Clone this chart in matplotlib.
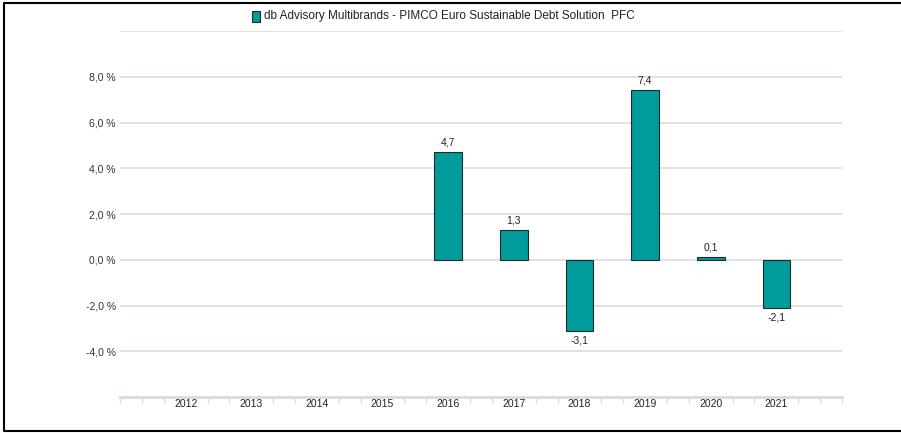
import matplotlib
matplotlib.use("Agg")
import matplotlib.pyplot as plt
from matplotlib.patches import Rectangle
from matplotlib.lines import Line2D
import numpy as np

# data
years = ["2012", "2013", "2014", "2015", "2016", "2017", "2018", "2019", "2020", "2021"]
values = [None, None, None, None, 4.7, 1.3, -3.1, 7.4, 0.1, -2.1]
series_name = "db Advisory Multibrands - PIMCO Euro Sustainable Debt Solution  PFC"
y_ticks = [-4, -2, 0, 2, 4, 6, 8]

bar_color = "#009b9b"
grid_color = "#dedbd3"

plt.rcParams["font.family"] = ["Liberation Sans", "DejaVu Sans"]

fig = plt.figure(figsize=(9.01, 4.33), dpi=100)
ax = fig.add_axes([120 / 901, 36 / 433, 722 / 901, 366 / 433])

x = np.arange(1, len(years) + 1)
for xi, v in zip(x, values):
    if v is None:
        continue
    ax.bar(xi, v, width=0.42, color=bar_color, edgecolor="#1e2a2a", linewidth=0.8, zorder=3)
    if v >= 0:
        ax.text(xi, v + 0.2, f"{v:.1f}".replace(".", ","), ha="center", va="bottom",
                fontsize=7.5, color="#222222")
    else:
        ax.text(xi, v - 0.2, f"{v:.1f}".replace(".", ","), ha="center", va="top",
                fontsize=7.5, color="#222222")

ax.set_xlim(0, 11)
ax.set_ylim(-6, 10)

# horizontal grid, incl. top line at 10 %
for g in y_ticks + [10]:
    ax.axhline(g, color=grid_color, linewidth=1.2, zorder=1)

ax.set_yticks(y_ticks)
ax.set_yticklabels([f"{t:.1f} %".replace(".", ",") for t in y_ticks], fontsize=7.5, color="#333333")
ax.tick_params(axis="y", length=0, pad=3)

ax.set_xticks(x)
ax.set_xticklabels(years, fontsize=7.5, color="#222222")
ax.set_xticks([i / 3 for i in range(0, 34) if i % 3 != 0 or i in (0, 33)], minor=True)
ax.tick_params(axis="x", which="major", length=0, pad=1.5)
ax.tick_params(axis="x", which="minor", length=4, width=1, color=grid_color, direction="out")

for side in ["top", "right", "left"]:
    ax.spines[side].set_visible(False)
ax.spines["bottom"].set_color(grid_color)
ax.spines["bottom"].set_linewidth(2)

# legend at top
fig.patches.append(Rectangle((252 / 901, 1 - 22 / 433), 8 / 901, 11 / 433, transform=fig.transFigure,
                             facecolor=bar_color, edgecolor="#1e2a2a", linewidth=0.8))
fig.text(264 / 901, 1 - 16 / 433, series_name, fontsize=8.5, va="center", ha="left", color="#222222")

# outer frame: left, top and bottom only
x0, y0, y1 = 4 / 901, 2 / 433, 1 - 3 / 433
fig.lines.append(Line2D([1.0, x0, x0, 1.0], [y1, y1, y0, y0], transform=fig.transFigure,
                        color="black", linewidth=1.5))

fig.savefig("out.png", dpi=100)
